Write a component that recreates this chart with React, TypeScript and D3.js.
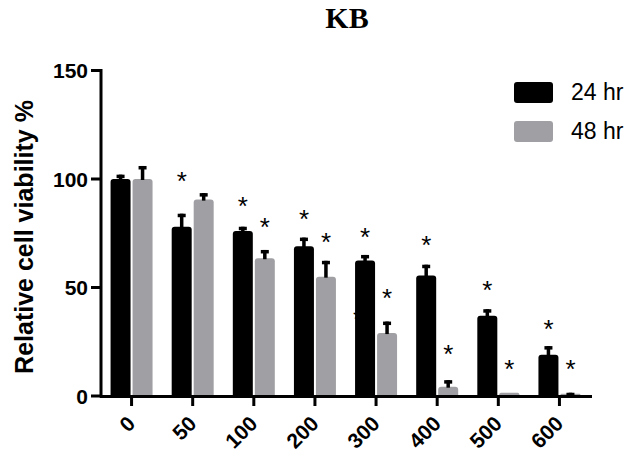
import React from 'react';
import * as d3 from 'd3';

// Chart data
const doses = ['0', '50', '100', '200', '300', '400', '500', '600'];
const viability24 = [100, 78, 76, 69, 62.5, 55.5, 37, 19];
const error24 = [2, 6, 2, 4, 2.5, 5, 3, 4];
const viability48 = [100, 90.5, 63.5, 55, 29, 4.3, 1.5, 1];
const error48 = [6, 3, 3.8, 7.3, 5.3, 3, 0, 0.5];
// significance asterisk levels (data units, null = no mark)
const stars24 = [null, 101.8, 90, 84.3, 75.6, 71.9, 51.6, 33.6];
const stars48 = [null, null, 80.3, 73.3, 47.6, 22.1, 15.2, 15.2];
const yTicks = [0, 50, 100, 150];
const seriesNames = ['24 hr', '48 hr'];

const W = 633;
const H = 454;
const BLACK = '#000000';
const GREY = '#a0a0a4';
const FONT = '"Liberation Sans", Arial, sans-serif';
const STAR_SIZE = 26;
const STAR_DY = 14.5; // baseline offset from the asterisk's centre

const x = d3.scaleBand<string>().domain(doses).range([101, 590]).padding(0);
const y = d3.scaleLinear().domain([0, 150]).range([396, 70.5]);

// bar with slightly rounded top corners
function barPath(x0: number, w: number, top: number, bottom: number, r = 3) {
  const rr = Math.min(r, (bottom - top) / 2, w / 2);
  const p = d3.path();
  p.moveTo(x0, bottom);
  p.lineTo(x0, top + rr);
  p.quadraticCurveTo(x0, top, x0 + rr, top);
  p.lineTo(x0 + w - rr, top);
  p.quadraticCurveTo(x0 + w, top, x0 + w, top + rr);
  p.lineTo(x0 + w, bottom);
  p.closePath();
  return p.toString();
}

export default function App() {
  const barW = 20;
  const center = (d: string) => (x(d) as number) + x.bandwidth() / 2;
  const series = [
    { vals: viability24, errs: error24, stars: stars24, color: BLACK, off: -21 },
    { vals: viability48, errs: error48, stars: stars48, color: GREY, off: 1 },
  ];

  return (
    <svg width={W} height={H} style={{ position: 'absolute', left: 0, top: 0, background: '#fff' }}>
      <text x={347} y={28} textAnchor="middle" fontFamily='"Liberation Serif", "Times New Roman", serif'
        fontWeight="bold" fontSize={30}>KB</text>

      {/* stray asterisk partly hidden behind the 300 bar */}
      <text x={center('300') - 11 - 7} y={y(38.2) + STAR_DY} textAnchor="middle" fontFamily={FONT}
        fontSize={STAR_SIZE}>*</text>

      {series.map((s, si) => (
        <g key={si}>
          {doses.map((d, i) => {
            const x0 = center(d) + s.off;
            const mid = x0 + barW / 2;
            const top = y(s.vals[i]);
            const errTop = y(s.vals[i] + s.errs[i]);
            return (
              <g key={d}>
                <path d={barPath(x0, barW, top, y(0))} fill={s.color} />
                {s.errs[i] > 0 && (
                  <g fill={BLACK}>
                    <rect x={mid - 1.75} y={errTop} width={3.5} height={Math.max(0, top - errTop + 1)} />
                    <rect x={mid - 4} y={errTop} width={8} height={3.5} />
                  </g>
                )}
                {s.stars[i] != null && (
                  <text x={mid} y={y(s.stars[i] as number) + STAR_DY} textAnchor="middle"
                    fontFamily={FONT} fontSize={STAR_SIZE}>*</text>
                )}
              </g>
            );
          })}
        </g>
      ))}

      {/* y axis */}
      <line x1={101} x2={101} y1={y(150) - 1.5} y2={y(0) + 1.5} stroke={BLACK} strokeWidth={3} />
      {yTicks.map((t) => (
        <g key={t}>
          <line x1={91} x2={101} y1={y(t)} y2={y(t)} stroke={BLACK} strokeWidth={3} />
          <text x={88} y={y(t) + 7.5} textAnchor="end" fontFamily={FONT} fontWeight="bold" fontSize={21}>{t}</text>
        </g>
      ))}

      {/* x axis */}
      <line x1={100} x2={592} y1={y(0) + 0.5} y2={y(0) + 0.5} stroke={BLACK} strokeWidth={3} />
      {doses.map((d) => (
        <g key={d}>
          <line x1={center(d)} x2={center(d)} y1={y(0)} y2={y(0) + 10} stroke={BLACK} strokeWidth={3} />
          <text transform={`translate(${center(d) + 5},${425}) rotate(-45)`} textAnchor="end"
            fontFamily={FONT} fontWeight="bold" fontSize={21}>{d}</text>
        </g>
      ))}

      <text transform={`translate(33,${237}) rotate(-90)`} textAnchor="middle" fontFamily={FONT}
        fontWeight="bold" fontSize={25}>Relative cell viability %</text>

      {/* legend */}
      {seriesNames.map((n, i) => (
        <g key={n} transform={`translate(514,${82 + i * 39})`}>
          <rect width={39} height={21} rx={3} fill={i === 0 ? BLACK : GREY} />
          <text x={57} y={17.5} fontFamily={FONT} fontSize={23}>{n}</text>
        </g>
      ))}
    </svg>
  );
}
